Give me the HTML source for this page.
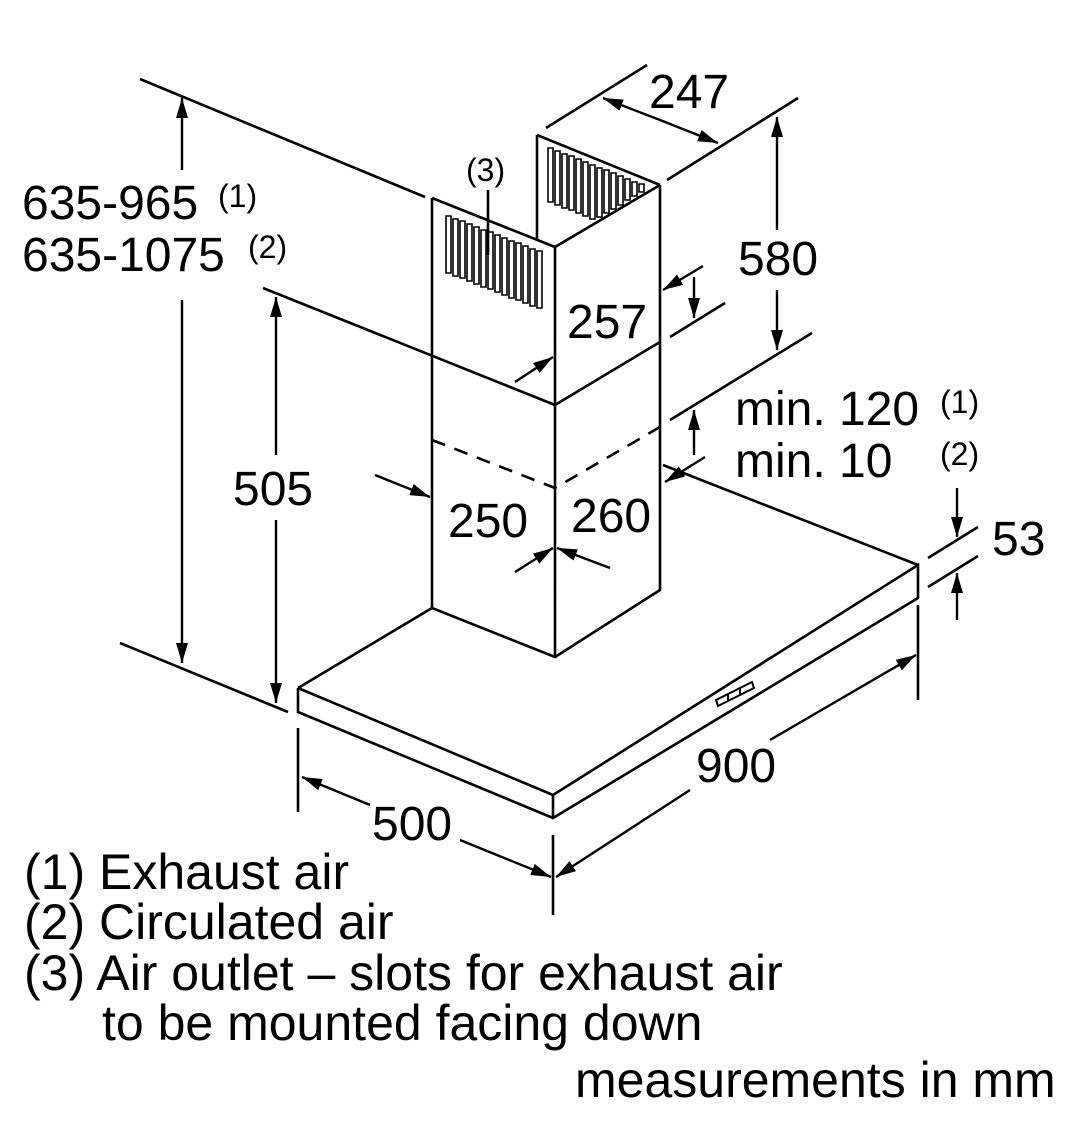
<!DOCTYPE html>
<html><head><meta charset="utf-8"><style>
html,body{margin:0;padding:0;background:#fff;}
svg{display:block;}
text{font-family:"Liberation Sans",Arial,sans-serif;fill:#000;}
</style></head><body>
<svg width="1080" height="1139" viewBox="0 0 1080 1139" xmlns="http://www.w3.org/2000/svg">
<defs>
<marker id="a" viewBox="0 0 20 12" refX="20" refY="6" markerWidth="20" markerHeight="12" markerUnits="userSpaceOnUse" orient="auto">
<path d="M0,0 L20,6 L0,12 z" fill="#000"/>
</marker>
</defs>
<g stroke="#000" stroke-width="2.6" fill="none" stroke-linecap="butt" stroke-linejoin="miter">
<path d="M298,688 L432,608 M298,688 L298,712 L553,818 L918,598 L918,565 L553,795 L298,688 M553,795 L553,818 M918,565 L663,465"/>
<path d="M716,700 L752,682 L754,688 L718,706 z M728,694 l0,6 M740,688 l0,6" stroke-width="2"/>
<path d="M432,198 L432,608 L555,657 L660,590 L660,185 M555,247 L555,657 M555,405 L660,342"/>
<path d="M432,198 L555,247 L660,185 M537,135 L537,240 M537,135 L660,185"/>
<path d="M432,440 L555,488 L660,427" stroke-dasharray="14,10"/>
<path d="M140,79 L425,197 M263,288 L555,405 M120,643 L288,712"/>
<path d="M546,128 L647,65 M667,180 L798,98 M670,337 L725,303 M670,420 L812,333 M928,558 L978,527 M928,587 L978,556"/>
<path d="M918,605 L918,700 M553,835 L553,915 M298,728 L298,812"/>
</g>
<g stroke="#000" stroke-width="1.6" fill="#fff">
<path d="M446,216h5v57h-5z M453,219h5v57h-5z M460,221h5v57h-5z M467,224h5v57h-5z M474,227h5v57h-5z M481,230h5v57h-5z M488,232h5v57h-5z M495,235h5v57h-5z M502,238h5v57h-5z M509,241h5v57h-5z M516,243h5v57h-5z M523,246h5v57h-5z M530,249h5v57h-5z M537,251h5v57h-5z"/>
<path d="M548,148h5V202h-5z M555,151h5V205h-5z M562,154h5V208h-5z M569,156h5V210h-5z M576,159h5V213h-5z M583,162h5V216h-5z M590,165h5V219h-5z M597,168h5V217h-5z M604,170h5V213h-5z M611,173h5V209h-5z M618,176h5V205h-5z M625,179h5V200h-5z M632,182h5V196h-5z M639,184h5V192h-5z"/>
</g>
<path d="M488,190 L488,255" stroke="#000" stroke-width="2.6"/>
<g stroke="#000" stroke-width="2.4" fill="none" marker-end="url(#a)">
<path d="M182,170 L182,98"/>
<path d="M182,300 L182,663"/>
<path d="M276,455 L276,297"/>
<path d="M276,520 L276,703"/>
<path d="M660,120 L603,98"/>
<path d="M660,120 L718,143"/>
<path d="M777,230 L777,117"/>
<path d="M777,290 L777,350"/>
<path d="M703,266 L663,290"/>
<path d="M694,277 L694,318"/>
<path d="M515,382 L553,357"/>
<path d="M694,455 L694,410"/>
<path d="M705,457 L665,482"/>
<path d="M375,475 L430,497"/>
<path d="M515,572 L553,548"/>
<path d="M610,568 L557,548"/>
<path d="M957,488 L957,537"/>
<path d="M957,620 L957,573"/>
<path d="M370,805 L302,777"/>
<path d="M460,840 L551,877"/>
<path d="M690,790 L556,877"/>
<path d="M770,740 L916,655"/>
</g>
<g font-size="48">
<text x="22" y="219">635-965</text>
<text x="22" y="271">635-1075</text>
<text x="233" y="505">505</text>
<text x="567" y="338">257</text>
<text x="649" y="108">247</text>
<text x="738" y="275">580</text>
<text x="448" y="537">250</text>
<text x="571" y="532">260</text>
<text x="735" y="425">min. 120</text>
<text x="735" y="477">min. 10</text>
<text x="992" y="555">53</text>
<text x="696" y="782">900</text>
<text x="372" y="840">500</text>
</g>
<g font-size="32">
<text x="218" y="207">(1)</text>
<text x="248" y="258">(2)</text>
<text x="940" y="413">(1)</text>
<text x="940" y="465">(2)</text>
<text x="466" y="181">(3)</text>
</g>
<g font-size="50">
<text x="24" y="889">(1) Exhaust air</text>
<text x="24" y="939">(2) Circulated air</text>
<text x="24" y="990">(3) Air outlet – slots for exhaust air</text>
<text x="102" y="1040">to be mounted facing down</text>
<text x="575" y="1097">measurements in mm</text>
</g>
</svg>
</body></html>
